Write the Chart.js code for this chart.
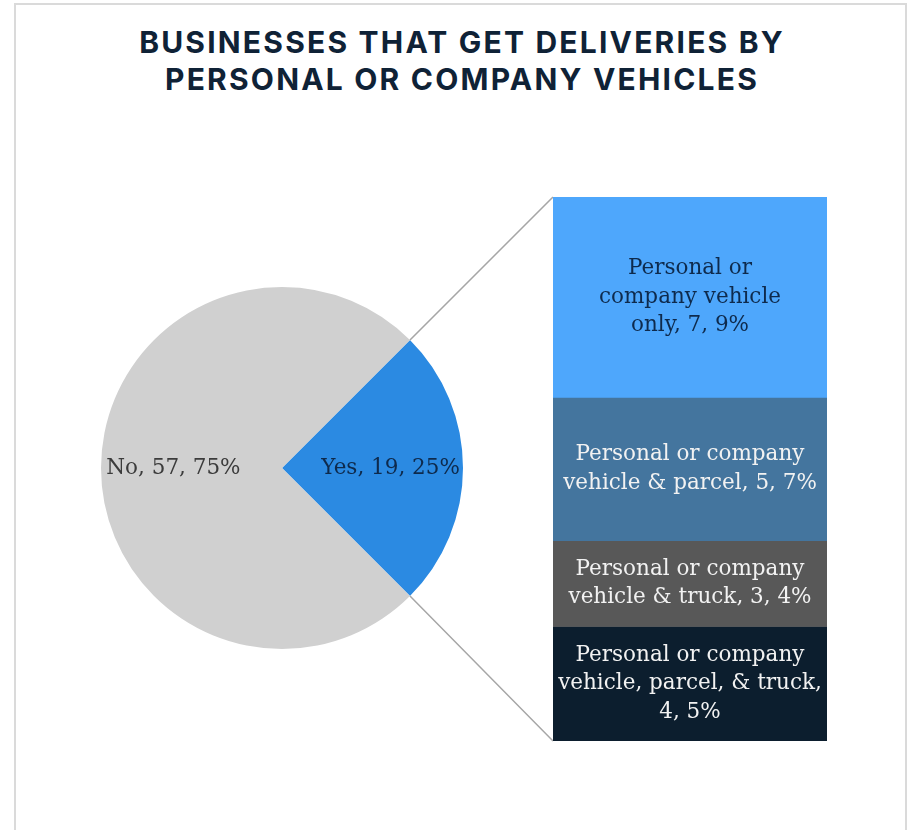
<!DOCTYPE html>
<html>
<head>
<meta charset="utf-8">
<script src="https://cdn.jsdelivr.net/npm/chart.js@4/dist/chart.umd.min.js"></script>
<style>
  html, body { margin: 0; padding: 0; background: #fff; }
  #wrap { position: relative; width: 914px; height: 830px; overflow: hidden; }
  #frame { position: absolute; left: 14px; top: 3px; width: 893px; height: 900px; border: 2px solid #dadada; box-sizing: border-box; }
  h1 { position: absolute; left: 16px; width: 892px; top: 24px; margin: 0; text-align: center;
       font-family: Inter, sans-serif; font-weight: 700; font-size: 30px; line-height: 37px;
       letter-spacing: 2.2px; color: #0f2236; }
  canvas { position: absolute; left: 0; top: 0; }
</style>
</head>
<body>
<div id="wrap">
  <div id="frame"></div>
  <h1>BUSINESSES THAT GET DELIVERIES BY<br>PERSONAL OR COMPANY VEHICLES</h1>
  <canvas id="pie" width="914" height="830"></canvas>
  <canvas id="bar" width="914" height="830"></canvas>
</div>
<script>
// main split, Yes goes first so it can sit on the right side of the pie
const mainLabels = ['Yes', 'No'];
const mainValues = [19, 57];

// breakdown of the "Yes" slice, top to bottom
const detailLabels = [
  'Personal or\ncompany vehicle\nonly',
  'Personal or company vehicle & parcel',
  'Personal or company vehicle & truck',
  'Personal or company vehicle, parcel, & truck'
];
const detailValues = [7, 5, 3, 4];

const total = mainValues.reduce((a, b) => a + b, 0);
const pct = v => Math.round(v / total * 100) + '%';

const LABEL_FONT = '21.5px "DejaVu Serif", serif';
const LINE_H = 28.5;

// greedy wrap, respecting explicit line breaks
function wrap(ctx, text, maxW) {
  const out = [];
  text.split('\n').forEach(part => {
    let line = '';
    part.split(' ').forEach(w => {
      const test = line ? line + ' ' + w : w;
      if (line && ctx.measureText(test).width > maxW) {
        out.push(line);
        line = w;
      } else {
        line = test;
      }
    });
    out.push(line);
  });
  return out;
}

const pieLabels = {
  id: 'pieLabels',
  afterDatasetsDraw(chart) {
    const ctx = chart.ctx;
    const meta = chart.getDatasetMeta(0);
    const colors = ['#0e2a4c', '#3b3b3b'];
    ctx.save();
    ctx.font = LABEL_FONT;
    ctx.textAlign = 'center';
    ctx.textBaseline = 'middle';
    meta.data.forEach((arc, i) => {
      const p = arc.getProps(['x', 'y', 'startAngle', 'endAngle', 'outerRadius'], true);
      const mid = (p.startAngle + p.endAngle) / 2;
      const r = p.outerRadius * 0.6;
      ctx.fillStyle = colors[i];
      ctx.fillText(mainLabels[i] + ', ' + mainValues[i] + ', ' + pct(mainValues[i]),
        p.x + Math.cos(mid) * r, p.y + Math.sin(mid) * r);
    });
    ctx.restore();
  }
};

const pieChart = new Chart(document.getElementById('pie'), {
  type: 'pie',
  data: {
    labels: mainLabels,
    datasets: [{
      data: mainValues,
      backgroundColor: ['#2b8ae2', '#d0d0d0'],
      borderWidth: 0,
      hoverOffset: 0
    }]
  },
  options: {
    responsive: false,
    animation: false,
    rotation: 45,
    layout: { padding: { left: 101, right: 451, top: 287, bottom: 181 } },
    plugins: { legend: { display: false }, tooltip: { enabled: false } }
  },
  plugins: [pieLabels]
});

// lines from the Yes slice edges to the stacked bar corners
const connectors = {
  id: 'connectors',
  beforeDatasetsDraw(chart) {
    const arc = pieChart.getDatasetMeta(0).data[0].getProps(['x', 'y', 'startAngle', 'endAngle', 'outerRadius'], true);
    const first = chart.getDatasetMeta(0).data[0];
    const last = chart.getDatasetMeta(chart.data.datasets.length - 1).data[0];
    const left = first.x - first.width / 2;
    const top = Math.min(first.y, first.base);
    const bottom = Math.max(last.y, last.base);
    const ctx = chart.ctx;
    ctx.save();
    ctx.strokeStyle = '#a6a6a6';
    ctx.lineWidth = 1.5;
    ctx.beginPath();
    ctx.moveTo(arc.x + Math.cos(arc.startAngle) * arc.outerRadius, arc.y + Math.sin(arc.startAngle) * arc.outerRadius);
    ctx.lineTo(left, top);
    ctx.moveTo(arc.x + Math.cos(arc.endAngle) * arc.outerRadius, arc.y + Math.sin(arc.endAngle) * arc.outerRadius);
    ctx.lineTo(left, bottom);
    ctx.stroke();
    ctx.restore();
  }
};

const barLabels = {
  id: 'barLabels',
  afterDatasetsDraw(chart) {
    const ctx = chart.ctx;
    const colors = ['#0e2a4c', '#f2f2f2', '#f2f2f2', '#f2f2f2'];
    ctx.save();
    ctx.font = LABEL_FONT;
    ctx.textAlign = 'center';
    ctx.textBaseline = 'middle';
    chart.data.datasets.forEach((ds, i) => {
      const bar = chart.getDatasetMeta(i).data[0];
      const cy = (bar.y + bar.base) / 2;
      const text = detailLabels[i] + ', ' + detailValues[i] + ', ' + pct(detailValues[i]);
      const lines = wrap(ctx, text, bar.width - 4);
      ctx.fillStyle = colors[i];
      lines.forEach((ln, k) => {
        ctx.fillText(ln, bar.x, cy + (k - (lines.length - 1) / 2) * LINE_H);
      });
    });
    ctx.restore();
  }
};

const barChart = new Chart(document.getElementById('bar'), {
  type: 'bar',
  data: {
    labels: ['Yes'],
    datasets: detailValues.map((v, i) => ({
      label: detailLabels[i],
      data: [v],
      backgroundColor: ['#4ea7fc', '#44759e', '#585858', '#0c1e2e'][i],
      borderWidth: 0,
      barPercentage: 1,
      categoryPercentage: 1
    }))
  },
  options: {
    responsive: false,
    animation: false,
    layout: { padding: { left: 553, right: 87, top: 197, bottom: 89 } },
    scales: {
      x: { stacked: true, display: false },
      y: { stacked: true, display: false, reverse: true, min: 0, max: detailValues.reduce((a, b) => a + b, 0) }
    },
    plugins: { legend: { display: false }, tooltip: { enabled: false } }
  },
  plugins: [connectors, barLabels]
});
</script>
</body>
</html>
